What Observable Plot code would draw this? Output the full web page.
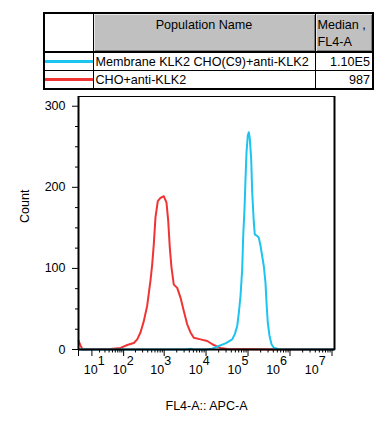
<!DOCTYPE html>
<html><head><meta charset="utf-8">
<script src="https://cdn.jsdelivr.net/npm/d3@7"></script>
<script src="https://cdn.jsdelivr.net/npm/@observablehq/plot@0.6"></script>
<style>
body{margin:0;background:#fff;font-family:"Liberation Sans",Arial,sans-serif;}
#wrap{position:relative;width:388px;height:436px;overflow:hidden;background:#fff;}
#wrap svg{position:absolute;left:0;top:0;}
#legend{position:absolute;left:43px;top:12px;z-index:5;border-collapse:collapse;table-layout:fixed;font-size:12.6px;color:#000;border:2px solid #000;background:#fff;}
#legend td{border:1px solid #000;padding:0;white-space:nowrap;overflow:hidden;}
#legend tr.head td{height:33px;vertical-align:top;line-height:17px;border-bottom:2px solid #000;}
#legend td.gray{background:#c0c0c0;box-shadow:inset 1px 1px 0 #e8e8e8, inset -1px -1px 0 #808080;}
#legend tr.row td{height:17px;vertical-align:bottom;line-height:15px;}
#legend td.swatch{vertical-align:middle !important;}
#legend td.swatch div{height:3.5px;width:100%;}
</style>
</head><body>
<div id="wrap"></div>
<script>
// ---- data ----
const seriesNames = ["Membrane KLK2 CHO(C9)+anti-KLK2", "CHO+anti-KLK2"];
const seriesMedians = ["1.10E5", "987"];
const seriesColors = ["#1cc4f0", "#f03434"];
const headerName = "Population Name";
const headerMedian = ["Median ,", "FL4-A"];

// CHO+anti-KLK2 (red) histogram: FL4-A value and count
const redX = [0, 1.07, 2.25, 44, 83, 124, 182, 221, 266, 321, 388, 467, 514, 562, 617, 702, 815, 979, 1137, 1249, 1363, 1498, 1700, 2051, 2459, 2948, 3555, 4262, 5108, 7384, 10660, 15320, 22120, 31920, 404500, 11500000];
const redCount = [11, 5, 0, 0.5, 2, 5.5, 8, 12.5, 21, 35, 54, 85, 105, 130, 163, 183, 187, 189, 181, 159, 126, 101, 80, 76, 64, 47.5, 31, 21, 14.5, 12.5, 10.5, 5.5, 2, 0.5, 0, 0];

// Membrane KLK2 CHO(C9)+anti-KLK2 (cyan) histogram
const cyanX = [0, 3500, 4262, 5000, 9720, 14020, 20150, 29090, 42040, 48450, 55280, 60330, 66230, 72670, 76810, 82420, 87110, 92000, 98800, 104400, 110300, 119000, 125700, 137300, 145100, 165500, 180600, 198300, 217600, 237600, 260800, 275500, 295800, 324700, 362400, 411100, 540700, 11500000];
const cyanCount = [0, 0, 1, 0, 0, 1, 4.3, 7.6, 12.5, 19, 29, 45, 66, 99, 140, 173, 210, 243, 264, 268, 260, 235, 194, 157, 142, 140, 138, 128, 115, 103, 82, 58, 33, 17, 6.4, 2.2, 0.3, 0];

const xMajor = [0, 10, 100, 1e3, 1e4, 1e5, 1e6, 1e7];
const xDecades = [1, 2, 3, 4, 5, 6, 7];
const yMajor = [0, 100, 200, 300];
const yMinor = [25, 50, 75, 125, 150, 175, 225, 250, 275];
const xLabel = "FL4-A:: APC-A";
const yLabel = "Count";

// ---- build ----
const xMinor = [];
for (let e = 1; e <= 6; e++) for (let k = 2; k <= 9; k++) xMinor.push(k * Math.pow(10, e));

const red = redX.map((x, i) => ({x, y: redCount[i]}));
const cyan = cyanX.map((x, i) => ({x, y: cyanCount[i]}));

const font = {fontFamily: '"Liberation Sans", Arial, sans-serif', fontSize: "12px", background: "transparent", color: "#000"};
const xDomain = [0, 1.146e7];

const main = Plot.plot({
  width: 388, height: 436,
  marginLeft: 78, marginRight: 54, marginTop: 96, marginBottom: 87,
  style: font,
  x: {type: "symlog", constant: 9.2, domain: xDomain},
  y: {domain: [0, 312]},
  marks: [
    Plot.line(red, {x: "x", y: "y", stroke: seriesColors[1], strokeWidth: 2}),
    Plot.line(cyan, {x: "x", y: "y", stroke: seriesColors[0], strokeWidth: 2}),
    Plot.frame({stroke: "#000", strokeWidth: 1}),
    Plot.ruleX([xDomain[0]], {stroke: "#000", strokeWidth: 2}),
    Plot.ruleX([xDomain[1]], {stroke: "#000", strokeWidth: 2}),
    Plot.ruleY([0], {stroke: "#000", strokeWidth: 2}),
    Plot.axisX({ticks: xMajor, tickSize: 7, tickFormat: () => "", label: null}),
    Plot.axisX({ticks: xMinor, tickSize: 3.5, tickFormat: () => "", label: null}),
    Plot.axisY({ticks: yMajor, tickSize: 6, tickPadding: 7, label: null, fontSize: 12.5}),
    Plot.axisY({ticks: yMinor, tickSize: 3, tickFormat: () => "", label: null}),
    Plot.text([yLabel], {frameAnchor: "left", dx: -54, rotate: -90, fontSize: 12.5}),
    Plot.text([xLabel], {frameAnchor: "bottom", dy: 60, fontSize: 12.5})
  ]
});

const labels = Plot.plot({
  width: 388, height: 436,
  marginLeft: 78, marginRight: 54, marginTop: 96, marginBottom: 87,
  style: font,
  x: {type: "symlog", constant: 9.38, domain: [0, 3.86e7], axis: null},
  marks: [
    Plot.text(xDecades, {x: d => Math.pow(10, d), text: () => "10", frameAnchor: "bottom", dy: 24, fontSize: 12.5}),
    Plot.text(xDecades, {x: d => Math.pow(10, d), text: d => String(d), frameAnchor: "bottom", dx: 10.5, dy: 15, fontSize: 12.5})
  ]
});

const wrap = document.getElementById("wrap");
wrap.appendChild(main);
wrap.appendChild(labels);

// legend table
const table = document.createElement("table");
table.id = "legend";
table.innerHTML = `<colgroup><col style="width:49px"><col style="width:222px"><col style="width:58px"></colgroup>`;
const head = document.createElement("tr");
head.className = "head";
head.innerHTML = `<td></td><td class="gray" style="text-align:center;padding-top:3px">${headerName}</td><td class="gray" style="padding-left:2px;padding-top:3px">${headerMedian.join("<br>")}</td>`;
table.appendChild(head);
seriesNames.forEach((name, i) => {
  const tr = document.createElement("tr");
  tr.className = "row";
  tr.innerHTML = `<td class="swatch"><div style="background:${seriesColors[i]}"></div></td><td style="padding-left:2px">${name}</td><td style="text-align:right;padding-right:2px">${seriesMedians[i]}</td>`;
  table.appendChild(tr);
});
wrap.appendChild(table);
</script>
</body></html>
